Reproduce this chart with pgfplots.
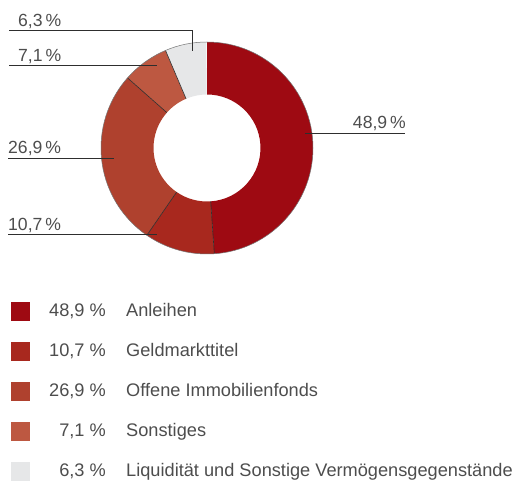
\documentclass[border=0pt]{standalone}
\usepackage{pgfplots}
\pgfplotsset{compat=1.18}
\usepackage{pgfplotstable}
\usepackage{fontspec}
\setmainfont{Liberation Sans}

\definecolor{c0}{HTML}{9E0A12}
\definecolor{c1}{HTML}{A8281E}
\definecolor{c2}{HTML}{AF412E}
\definecolor{c3}{HTML}{BD5841}
\definecolor{c4}{HTML}{E6E7E8}
\definecolor{txt}{HTML}{4D4D4D}
\definecolor{rule}{HTML}{2E2E2E}

% Anteile in Prozent, im Uhrzeigersinn ab 12 Uhr
\pgfplotstableread[col sep=comma]{
share,label
48.9,Anleihen
10.7,Geldmarkttitel
26.9,Offene Immobilienfonds
7.1,Sonstiges
6.3,Liquidität und Sonstige Vermögensgegenstände
}\shares

\newcommand\pct[1]{\pgfmathprintnumber[assume math mode=true,use comma,fixed,precision=1,fixed zerofill]{\csname sh#1\endcsname}}

% Winkel der Segmente vorab berechnen (global, da im axis verzoegert gezeichnet wird)
\xdef\angcur{90}
\foreach \i in {0,...,4}{%
  \pgfplotstablegetelem{\i}{share}\of\shares
  \expandafter\xdef\csname sh\i\endcsname{\pgfplotsretval}%
  \pgfmathsetmacro\tmp{\angcur-3.6*\pgfplotsretval}%
  \expandafter\xdef\csname angS\i\endcsname{\angcur}%
  \expandafter\xdef\csname angE\i\endcsname{\tmp}%
  \xdef\angcur{\tmp}%
  \pgfplotstablegetelem{\i}{label}\of\shares
  \expandafter\global\expandafter\let\csname lab\i\endcsname\pgfplotsretval
}

\def\R{106pt}
\def\r{53.5pt}
\def\C{axis cs:207,148}

\begin{document}
\begin{tikzpicture}[every node/.style={font=\fontsize{17.6}{20}\selectfont, text=txt, inner sep=0pt},
  leg/.style={font=\fontsize{18.2}{20}\selectfont}]
\begin{axis}[
  width=515pt, height=479pt, scale only axis,
  xmin=0, xmax=515, ymin=0, ymax=479, y dir=reverse,
  hide axis, clip=false
]
  \path (axis cs:0,0) (axis cs:515,479);
  % Ring
  \pgfplotsinvokeforeach{0,...,4}{
    \fill[c#1] (\C) ++(\csname angS#1\endcsname:\R)
      arc[start angle=\csname angS#1\endcsname, end angle=\csname angE#1\endcsname, radius=\R]
      -- ([shift={(\csname angE#1\endcsname:\r)}]\C)
      arc[start angle=\csname angE#1\endcsname, end angle=\csname angS#1\endcsname, radius=\r]
      -- cycle;
  }
  \pgfplotsinvokeforeach{0,...,3}{
    \draw[rule, line width=0.6pt] ([shift={(\csname angE#1\endcsname:\r)}]\C) -- ([shift={(\csname angE#1\endcsname:\R)}]\C);
  }
  \draw[black!55, line width=0.5pt] (\C) ++(90:\R) arc[start angle=90, end angle=-270, radius=\R];

  % Beschriftungen am Ring
  \draw[rule, line width=0.7pt] (axis cs:9,30.7) -- (axis cs:192,30.7) -- (axis cs:192,50.7);
  \node[anchor=base west] at (axis cs:18,27) {\pct{4}\,\%};
  \draw[rule, line width=0.7pt] (axis cs:9,65.3) -- (axis cs:157,65.3);
  \node[anchor=base west] at (axis cs:18,62) {\pct{3}\,\%};
  \draw[rule, line width=0.7pt] (axis cs:305,133.3) -- (axis cs:405,133.3);
  \node[anchor=base east] at (axis cs:406,129) {\pct{0}\,\%};
  \draw[rule, line width=0.7pt] (axis cs:8,158.3) -- (axis cs:114,158.3);
  \node[anchor=base west] at (axis cs:8,154) {\pct{2}\,\%};
  \draw[rule, line width=0.7pt] (axis cs:8,234.3) -- (axis cs:157,234.3);
  \node[anchor=base west] at (axis cs:8,230.7) {\pct{1}\,\%};

  % Legende
  \pgfplotsinvokeforeach{0,...,4}{
    \fill[c#1] (axis cs:11,{302+40*#1}) rectangle (axis cs:30,{321+40*#1});
    \node[leg, anchor=base east] at (axis cs:106,{317+40*#1}) {\pct{#1} \%};
    \node[leg, anchor=base west] at (axis cs:126,{317+40*#1}) {\csname lab#1\endcsname};
  }
\end{axis}
\end{tikzpicture}
\end{document}
